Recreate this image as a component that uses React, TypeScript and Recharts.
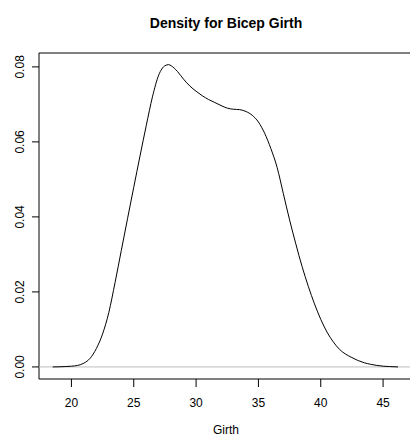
import React from 'react';
import { LineChart, Line, XAxis, YAxis, ReferenceLine, ReferenceArea } from 'recharts';

const girth = [
  18.5, 19.0, 19.5, 20.0, 20.5, 21.0, 21.5, 22.0, 22.5, 23.0, 23.5, 24.0, 24.5, 25.0, 25.5, 26.0,
  26.5, 27.0, 27.5, 27.8, 28.0, 28.5, 29.0, 29.5, 30.0, 30.5, 31.0, 31.5, 32.0, 32.5, 33.0, 33.5,
  34.0, 34.5, 35.0, 35.5, 36.0, 36.5, 37.0, 37.5, 38.0, 38.5, 39.0, 39.5, 40.0, 40.5, 41.0, 41.5,
  42.0, 42.5, 43.0, 43.5, 44.0, 44.5, 45.0, 45.5, 46.2,
];
const density = [
  0.0, 0.00003, 0.0001, 0.0002, 0.0004, 0.001, 0.0023, 0.0049, 0.0088, 0.0145, 0.0225, 0.031,
  0.0395, 0.0479, 0.0562, 0.0643, 0.072, 0.0778, 0.0803, 0.0806, 0.0803, 0.0788, 0.0767, 0.0749,
  0.0735, 0.0723, 0.0713, 0.0705, 0.0697, 0.069, 0.0687, 0.0686, 0.0681, 0.0671, 0.0653, 0.0623,
  0.0582, 0.0532, 0.0462, 0.0392, 0.0328, 0.0268, 0.0215, 0.0168, 0.0127, 0.0093, 0.0067, 0.0047,
  0.0034, 0.0025, 0.0017, 0.0011, 0.0007, 0.0004, 0.0002, 0.0001, 0.0,
];
const xTicks = [20, 25, 30, 35, 40, 45];
const yTicks = [0, 0.02, 0.04, 0.06, 0.08];
const xDomain = [17.4, 47.4];
const yDomain = [-0.00322, 0.0837];
const title = 'Density for Bicep Girth';
const xLabel = 'Girth';

const data = girth.map((g, i) => ({ girth: g, density: density[i] }));

const FONT = '"Liberation Sans", Arial, Helvetica, sans-serif';

const YTick = (props: any) => {
  const { x, y, payload } = props;
  return (
    <text
      transform={`translate(${x},${y}) rotate(-90)`}
      textAnchor="middle"
      fontSize={12}
      fontFamily={FONT}
      fill="#000"
    >
      {Number(payload.value).toFixed(2)}
    </text>
  );
};

const XLabel = (props: any) => {
  const vb = props.viewBox || {};
  return (
    <text
      x={vb.x + vb.width / 2}
      y={vb.y + 55}
      textAnchor="middle"
      fontSize={12}
      fontFamily={FONT}
      fill="#000"
    >
      {xLabel}
    </text>
  );
};

export default function App() {
  return (
    <div
      style={{
        position: 'absolute',
        left: 0,
        top: 0,
        width: 410,
        height: 437,
        overflow: 'hidden',
        background: '#fff',
      }}
    >
      <div
        style={{
          position: 'absolute',
          left: 39,
          width: 374,
          top: 15,
          lineHeight: '16px',
          textAlign: 'center',
          fontFamily: FONT,
          fontWeight: 'bold',
          fontSize: 14,
          color: '#000',
        }}
      >
        {title}
      </div>
      <LineChart
        width={420}
        height={437}
        data={data}
        margin={{ top: 53, right: 7, bottom: 0, left: 0 }}
      >
        <XAxis
          dataKey="girth"
          type="number"
          domain={xDomain}
          ticks={xTicks}
          interval={0}
          allowDataOverflow
          axisLine={false}
          tickLine={{ stroke: '#000' }}
          tickSize={8}
          tickMargin={11}
          height={58}
          tick={{ fontSize: 12, fontFamily: FONT, fill: '#000' }}
          label={<XLabel />}
        />
        <YAxis
          type="number"
          domain={yDomain}
          ticks={yTicks}
          interval={0}
          allowDataOverflow
          axisLine={false}
          tickLine={{ stroke: '#000' }}
          tickSize={7}
          tickMargin={8.5}
          width={39}
          tick={<YTick />}
        />
        <ReferenceLine y={0} stroke="#bebebe" ifOverflow="visible" />
        <ReferenceArea
          x1={xDomain[0]}
          x2={xDomain[1]}
          y1={yDomain[0]}
          y2={yDomain[1]}
          fill="none"
          fillOpacity={0}
          stroke="#000"
          strokeWidth={1}
          ifOverflow="visible"
        />
        <Line
          dataKey="density"
          type="monotone"
          stroke="#000"
          strokeWidth={1}
          dot={false}
          activeDot={false}
          isAnimationActive={false}
        />
      </LineChart>
    </div>
  );
}
